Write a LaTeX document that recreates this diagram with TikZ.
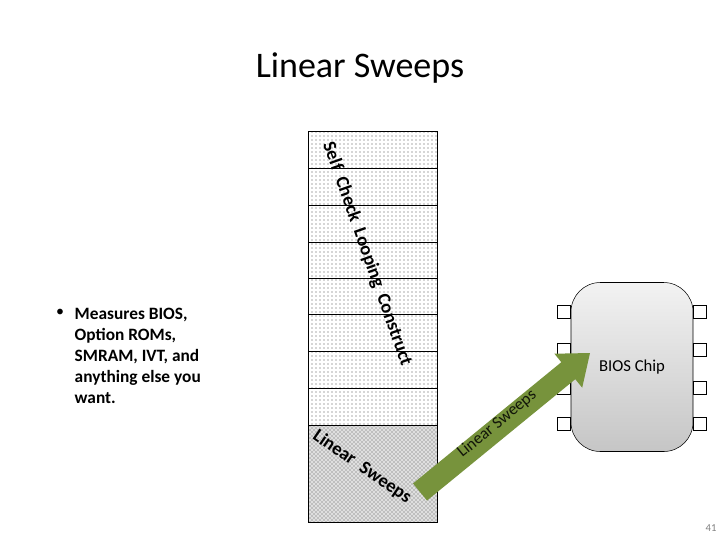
\documentclass[tikz,border=0pt]{standalone}
\usepackage{fontspec}
\setmainfont{Carlito}
\usetikzlibrary{patterns}
\definecolor{arrowgreen}{HTML}{77933C}
\begin{document}
\begin{tikzpicture}[x=0.75pt,y=-0.75pt,
  cellbox/.style={draw=black,pattern=dots,pattern color=black!70},
  pinbox/.style={draw=black,line width=1pt,fill=white,minimum size=9.75pt,inner sep=0pt},
  rottext/.style={font=\bfseries\fontsize{14}{14}\selectfont}]
\useasboundingbox (0,0) rectangle (720,540);
\node (title) at (360,68) {\fontsize{27}{30}\selectfont Linear Sweeps};
% column
\foreach \a/\b in {131/168,168/205,205/242,242/278,278/314,314/351,351/388,388/425}
  \draw[cellbox] (308,\a) rectangle (437,\b);
\fill[gray!25] (308,425) rectangle (437,522);
\draw[draw=black,pattern=crosshatch dots,pattern color=black!65] (308,425) rectangle (437,522);
\node[rotate=-70.5,rottext] (sclc) at (367,254) {Self\ \ Check\ \ Looping\ \ Construct};
\node[rotate=-34.5,rottext] (lsc) at (362,467) {Linear\ \ Sweeps};
% bullet text
\node[anchor=north west,align=left,font=\bfseries\fontsize{13}{15.8}\selectfont] (bul) at (70,303)
 {Measures BIOS,\\Option ROMs,\\SMRAM, IVT, and\\anything else you\\want.};
\node[font=\fontsize{12}{12}\selectfont] (dot) at (60,313) {•};
% chip
\node[draw=black,rounded corners=22pt,minimum width=91.5pt,minimum height=126.75pt,
  top color=gray!10,bottom color=gray!45,inner sep=0pt] (chip) at (632,367) {};
\node[font=\fontsize{12.5}{12}\selectfont] (chiplabel) at (632,367) {BIOS Chip};
\foreach \y [count=\i] in {312,350,388,424}{
  \node[pinbox] (pl\i) at (564,\y) {};
  \node[pinbox] (pr\i) at (700,\y) {};}
% arrow
\fill[arrowgreen] (413,483.5) -- (561.3,362.2) -- (554.4,353.7) -- (590,353) -- (582.2,387.7) -- (575.3,379.2) -- (427,500.5) -- cycle;
\node[rotate=39.3,text=black!85!arrowgreen,font=\fontsize{12.5}{12}\selectfont] (arrlab) at (497,424) {Linear Sweeps};
\node[font=\fontsize{8}{8}\selectfont,text=gray] (pg) at (711,528) {41};
\end{tikzpicture}
\end{document}
